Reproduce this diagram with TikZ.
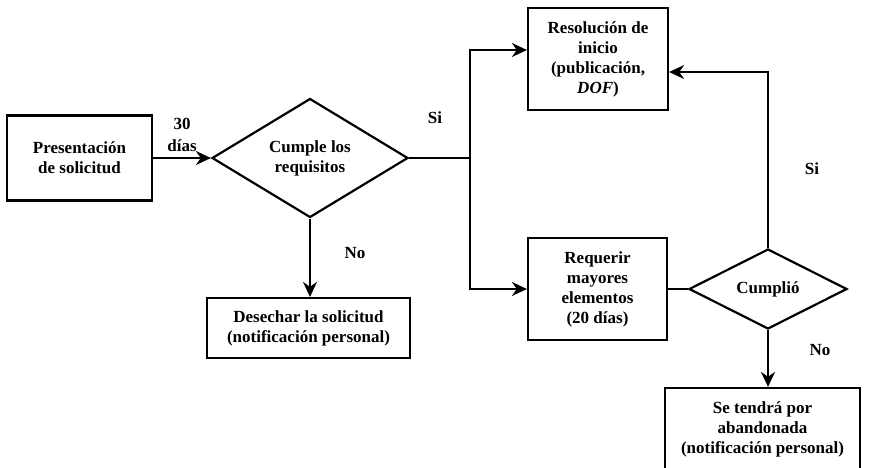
\documentclass[tikz,border=0pt]{standalone}
\usepackage{fontspec}
\setmainfont{Liberation Serif}
\usetikzlibrary{shapes.geometric,arrows.meta}

\tikzset{
	caja/.style={draw, line width=2.2pt, align=center, inner sep=0pt,
		font=\bfseries\fontsize{17}{20}\selectfont},
	rombo/.style={draw, diamond, line width=2.2pt, align=center, inner sep=0pt,
		font=\bfseries\fontsize{17}{20}\selectfont},
	flecha/.style={line width=1.8pt, -{Stealth[length=15pt,width=14pt]}},
	linea/.style={line width=1.8pt},
	etiqueta/.style={font=\bfseries\fontsize{17}{22}\selectfont, align=center}
}

\begin{document}
\begin{tikzpicture}[x=1pt, y=-1pt]
	\clip (0,0) rectangle (869,467);

	% cajas y rombos
	\node [caja, minimum width=145pt, minimum height=85pt] (pres)
		at (79.5, 158) {Presentación\\de solicitud};

	\node [rombo, minimum width=196pt, minimum height=119pt] (cumple)
		at (310, 158) {Cumple los\\requisitos};

	\node [caja, minimum width=140pt, minimum height=102pt] (resol)
		at (598, 59) {Resolución de\\inicio\\(publicación,\\\textit{DOF})};

	\node [caja, minimum width=139pt, minimum height=102pt] (requerir)
		at (597.5, 289) {Requerir\\mayores\\elementos\\(20 días)};

	\node [rombo, minimum width=158pt, minimum height=80pt] (cumplio)
		at (768, 289) {Cumplió};

	\node [caja, minimum width=203pt, minimum height=60pt] (desechar)
		at (308.5, 328) {Desechar la solicitud\\(notificación personal)};

	\node [caja, minimum width=195pt, minimum height=82pt] (abandono)
		at (762.5, 429) {Se tendrá por\\abandonada\\(notificación personal)};

	\coordinate (rama) at (470, 158);

	% conectores
	\draw [flecha]
		(pres.east) -- node [etiqueta, above=2pt] {30\\días} (cumple.west);

	\draw [linea]
		(cumple.east) -- (rama);

	\draw [flecha]
		(rama) |- ([yshift=9pt]resol.west);

	\draw [flecha]
		(rama) |- (requerir.west);

	\draw [linea]
		(requerir.east) -- (cumplio.west);

	\draw [flecha]
		(cumplio.north) |- ([yshift=-13pt]resol.east);

	\draw [flecha]
		(cumplio.south) -- (cumplio.south |- abandono.north);

	\draw [flecha]
		(cumple.south) -- (cumple.south |- desechar.north);

	% etiquetas
	\node [etiqueta] (si1) at (435, 118) {Si};
	\node [etiqueta] (si2) at (812, 169) {Si};
	\node [etiqueta] (no1) at (355, 253) {No};
	\node [etiqueta] (no2) at (820, 350) {No};
\end{tikzpicture}
\end{document}
